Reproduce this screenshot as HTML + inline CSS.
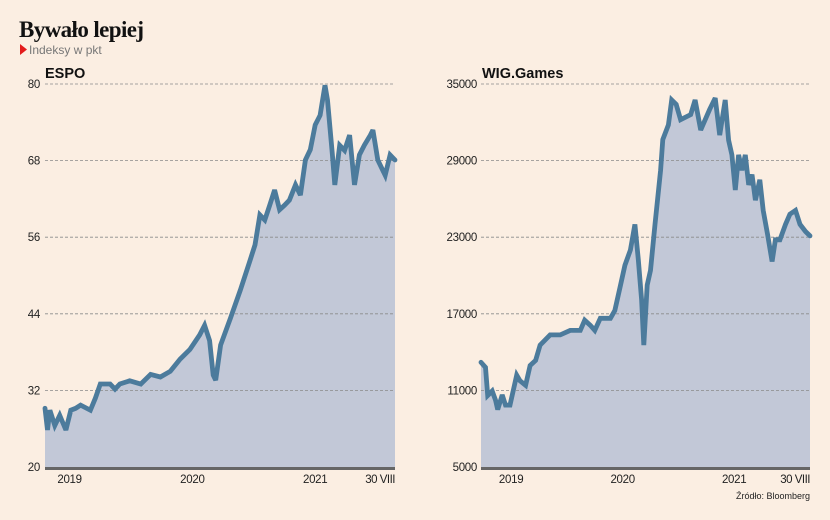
<!DOCTYPE html>
<html><head><meta charset="utf-8"><style>
body{margin:0;background:#fbeee2;}
svg{display:block;font-family:"Liberation Sans",sans-serif;}
</style></head><body>
<svg id="c" width="830" height="520" viewBox="0 0 830 520">
<rect width="830" height="520" fill="#fbeee2"/>
<text x="19" y="37" font-family="Liberation Serif,serif" font-weight="bold" font-size="23" letter-spacing="-0.6" fill="#111">Bywało lepiej</text>
<path d="M20,44 L27,49.5 L20,55 Z" fill="#e31b1b"/>
<text x="29" y="54" font-size="12" fill="#777">Indeksy w pkt</text>
<text x="810" y="499" font-size="9" fill="#222" text-anchor="end">Źródło: Bloomberg</text>
</svg>
<script>
const espoTime=[2018.81,2018.83,2018.85,2018.89,2018.93,2018.98,2019.02,2019.06,2019.10,2019.18,2019.22,2019.26,2019.34,2019.38,2019.42,2019.50,2019.59,2019.67,2019.75,2019.83,2019.91,2019.99,2020.07,2020.11,2020.15,2020.18,2020.20,2020.24,2020.32,2020.40,2020.48,2020.52,2020.56,2020.60,2020.64,2020.68,2020.72,2020.76,2020.80,2020.85,2020.89,2020.93,2020.97,2021.01,2021.05,2021.09,2021.11,2021.15,2021.17,2021.21,2021.25,2021.29,2021.33,2021.37,2021.41,2021.46,2021.48,2021.52,2021.58,2021.62,2021.66];
const espoValues=[29.2,25.8,28.9,26.5,28.1,25.8,28.9,29.2,29.7,28.9,30.8,33.0,33.0,32.2,33.0,33.5,33.0,34.5,34.1,35.0,36.9,38.4,40.7,42.2,39.8,34.4,33.6,39.1,43.3,47.7,52.4,54.8,59.5,58.7,61.0,63.4,60.3,61.0,61.8,64.2,62.6,68.1,69.7,73.6,75.1,79.8,77.5,68.9,64.2,70.4,69.6,72.0,64.2,68.9,70.4,72.0,72.8,68.1,65.7,68.9,68.1];
const espoTicks=[20,32,44,56,68,80];
const wigTime=[2018.73,2018.77,2018.79,2018.83,2018.86,2018.88,2018.92,2018.95,2018.99,2019.02,2019.05,2019.08,2019.13,2019.17,2019.22,2019.26,2019.35,2019.44,2019.53,2019.62,2019.66,2019.71,2019.75,2019.80,2019.89,2019.93,2019.98,2020.02,2020.07,2020.11,2020.14,2020.17,2020.19,2020.22,2020.25,2020.29,2020.34,2020.36,2020.41,2020.44,2020.48,2020.52,2020.61,2020.65,2020.70,2020.78,2020.83,2020.87,2020.92,2020.95,2020.98,2021.01,2021.04,2021.07,2021.10,2021.13,2021.16,2021.19,2021.23,2021.26,2021.30,2021.34,2021.37,2021.41,2021.46,2021.50,2021.55,2021.59,2021.64,2021.68];
const wigValues=[13200,12800,10600,10950,10250,9500,10650,9850,9850,11000,12200,11750,11400,12950,13350,14550,15350,15350,15700,15700,16500,16100,15700,16650,16650,17250,19200,20800,22000,24000,21250,18100,14550,19250,20400,24000,28250,30650,31800,33750,33400,32200,32600,33750,31400,33000,33900,31000,33750,30600,29450,26700,29450,28250,29450,27100,27900,25900,27500,25100,23200,21100,22800,22800,24000,24800,25100,24000,23450,23100];
const wigTicks=[5000,11000,17000,23000,29000,35000];
const yearTicks=[2019,2020,2021];
const endLabel="30 VIII";

const NS="http://www.w3.org/2000/svg";
const svg=document.getElementById('c');
function mk(tag,attrs,parent){const e=document.createElementNS(NS,tag);for(const k in attrs)e.setAttribute(k,attrs[k]);(parent||svg).appendChild(e);return e;}

function drawChart(cfg){
  const g=mk('g',{});
  
  
  const xs=t=>cfg.x0+(t-cfg.t0)/(cfg.t1-cfg.t0)*(cfg.x1-cfg.x0);
  const ys=v=>cfg.yBot-(v-cfg.vMin)/(cfg.vMax-cfg.vMin)*(cfg.yBot-cfg.yTop);
  let d='';
  cfg.time.forEach((t,i)=>{d+=(i?'L':'M')+xs(t).toFixed(1)+','+ys(cfg.values[i]).toFixed(1);});
  const area=mk('path',{d:d+'L'+xs(cfg.time[cfg.time.length-1]).toFixed(1)+','+cfg.yBot+'L'+xs(cfg.time[0]).toFixed(1)+','+cfg.yBot+'Z',fill:'#c2c8d7'},g);
  
  
  cfg.ticks.forEach(v=>{
    const y=ys(v);
    if(v!==cfg.vMin){
      const gl=mk('line',{x1:cfg.x0,x2:cfg.x1,y1:y,y2:y,stroke:'#8a8a8a','stroke-width':0.8,'stroke-dasharray':'3,2'},g);
      
      
    }
    const tl=mk('text',{x:cfg.labelX,y:y+4,'font-size':11.5,fill:'#222','text-anchor':'end','letter-spacing':'-0.3'},g);
    tl.textContent=String(v);
    
    
  });
  const line=mk('path',{d:d,fill:'none',stroke:'#4c7b9c','stroke-width':4.8,'stroke-linejoin':'miter','stroke-miterlimit':3,'stroke-linecap':'round'},g);
  
  
  const base=mk('line',{x1:cfg.x0,x2:cfg.x1,y1:cfg.yBot+1.5,y2:cfg.yBot+1.5,stroke:'#666','stroke-width':3},g);
  
  
  yearTicks.forEach(yr=>{
    const xl=mk('text',{x:xs(yr+cfg.labelShift),y:483,'font-size':11.5,fill:'#222','text-anchor':'middle','letter-spacing':'-0.3'},g);
    xl.textContent=String(yr);
    
    
  });
  const el=mk('text',{x:cfg.x1,y:483,'font-size':11.5,fill:'#222','text-anchor':'end','letter-spacing':'-0.5'},g);
  el.textContent=endLabel;
  
  
  const tt=mk('text',{x:cfg.titleX,y:78,'font-size':14.5,'font-weight':'bold',fill:'#111'},g);
  tt.textContent=cfg.title;
  
  
}
drawChart({name:'espo',title:'ESPO',titleX:45,time:espoTime,values:espoValues,ticks:espoTicks,x0:45,x1:395,t0:2018.81,t1:2021.66,yTop:84,yBot:467,vMin:20,vMax:80,labelX:40,labelShift:0.01});
drawChart({name:'wig-games',title:'WIG.Games',titleX:482,time:wigTime,values:wigValues,ticks:wigTicks,x0:481,x1:810,t0:2018.73,t1:2021.68,yTop:84,yBot:467,vMin:5000,vMax:35000,labelX:477,labelShift:0});
</script>
</body></html>
